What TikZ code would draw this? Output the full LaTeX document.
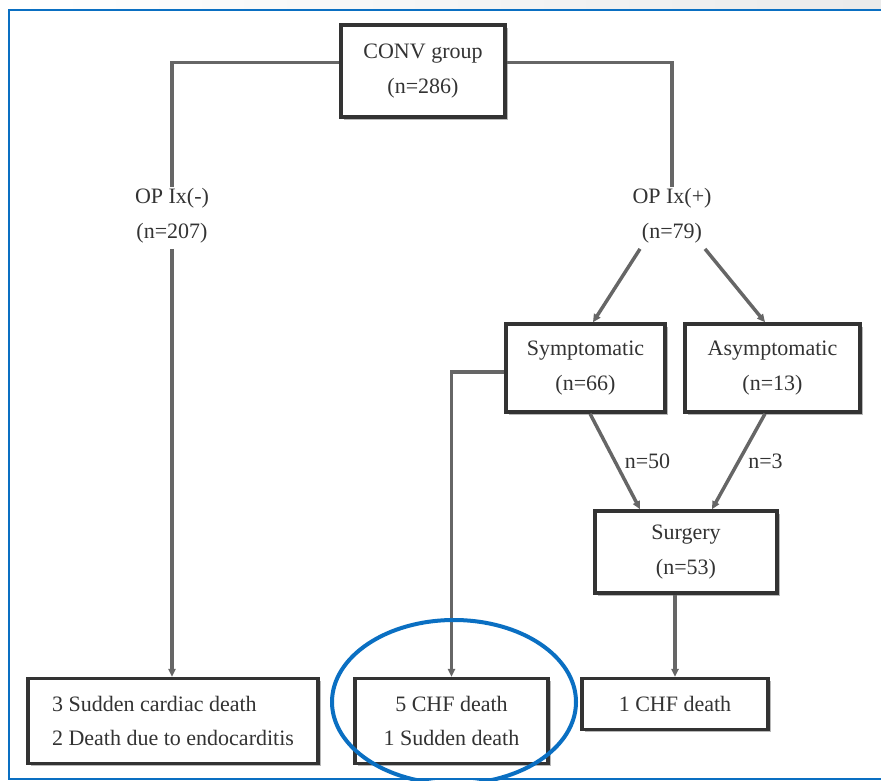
\documentclass[tikz,border=0pt]{standalone}
\usepackage{fontspec}
\setmainfont{Liberation Serif}
\usetikzlibrary{arrows.meta,shadows}
\newcommand{\Unit}{0.75pt}
\newcommand{\Edge}{2.6pt}
\definecolor{frame}{HTML}{0A6FC2}
\definecolor{ink}{HTML}{333333}
\definecolor{wire}{HTML}{666666}
\definecolor{shade}{HTML}{B8B8B8}

\tikzset{
  txt/.style={text=ink, align=center, inner sep=4pt,
    font=\fontsize{16.5}{26}\selectfont},
  box/.style={txt, draw=ink, fill=white, line width=\Edge,
    general shadow={shadow xshift=2pt, shadow yshift=-2pt, fill=shade}},
  link/.style={wire, line width=\Edge},
  arr/.style={link, -{Triangle[length=6pt,width=5.5pt]}},
}

\begin{document}
\begin{tikzpicture}[x=\Unit,y=-\Unit, line join=miter]
  \useasboundingbox (0,0) rectangle (881,781);

  % ---- the page frame -----------------------------------------------------
  \shade[left color=white, right color=black!8] (9,0) rectangle (881,10);
  \draw[frame,line width=1.5pt] (881,10) -- (9,10) -- (9,779) -- (881,779);

  % ---- boxes and labels ---------------------------------------------------
  \node[box, minimum width=164*\Unit, minimum height=92*\Unit] (conv) at (423,71) {CONV group\\(n=286)};
  \node[txt] (opneg) at (172,216) {OP Ix(-)\\(n=207)};
  \node[txt] (oppos) at (672,216) {OP Ix(+)\\(n=79)};
  \node[box, minimum width=159*\Unit, minimum height=88*\Unit] (sym) at (585.5,368) {Symptomatic\\(n=66)};
  \node[box, minimum width=175*\Unit, minimum height=88*\Unit] (asym) at (772.5,368) {Asymptomatic\\(n=13)};
  \node[box, minimum width=182*\Unit, minimum height=82*\Unit] (surg) at (686,552) {Surgery\\(n=53)};
  \node[box, align=left, minimum width=290*\Unit, minimum height=85*\Unit] (outa) at (173,721)
    {3 Sudden cardiac death\\2 Death due to endocarditis};
  \node[box, minimum width=193*\Unit, minimum height=85*\Unit] (outb) at (451.5,721) {5 CHF death\\1 Sudden death};
  \node[box, minimum width=186*\Unit, minimum height=51*\Unit] (outc) at (675,704) {1 CHF death};

  % ---- connectors ---------------------------------------------------------
  \draw[link] ([yshift=6.5pt]conv.west) -| ([yshift=-3pt]opneg.north);
  \draw[link] ([yshift=6.5pt]conv.east) -| ([yshift=-3pt]oppos.north);
  \draw[arr] (opneg.south) -- (opneg.south |- outa.north);
  \draw[arr] ([xshift=-24pt]oppos.south) -- ([xshift=5.6pt]sym.north);
  \draw[arr] ([xshift=24.75pt]oppos.south) -- ([xshift=-5.6pt]asym.north);
  \draw[arr] ([yshift=-3pt]sym.west) -| (outb.north);
  \draw[arr] ([xshift=3.4pt]sym.south) -- node[txt, right, xshift=2pt] (nfifty) {n=50} ([xshift=-34.5pt]surg.north);
  \draw[arr] ([xshift=-5.6pt]asym.south) -- node[txt, right, xshift=2pt] (nthree) {n=3} ([xshift=19.5pt]surg.north);
  \draw[arr] (outc.north |- surg.south) -- (outc.north);

  % ---- the ring round the middle outcome ----------------------------------
  \draw[frame,line width=3pt] (454,702) ellipse [x radius=122, y radius=82];
\end{tikzpicture}
\end{document}
